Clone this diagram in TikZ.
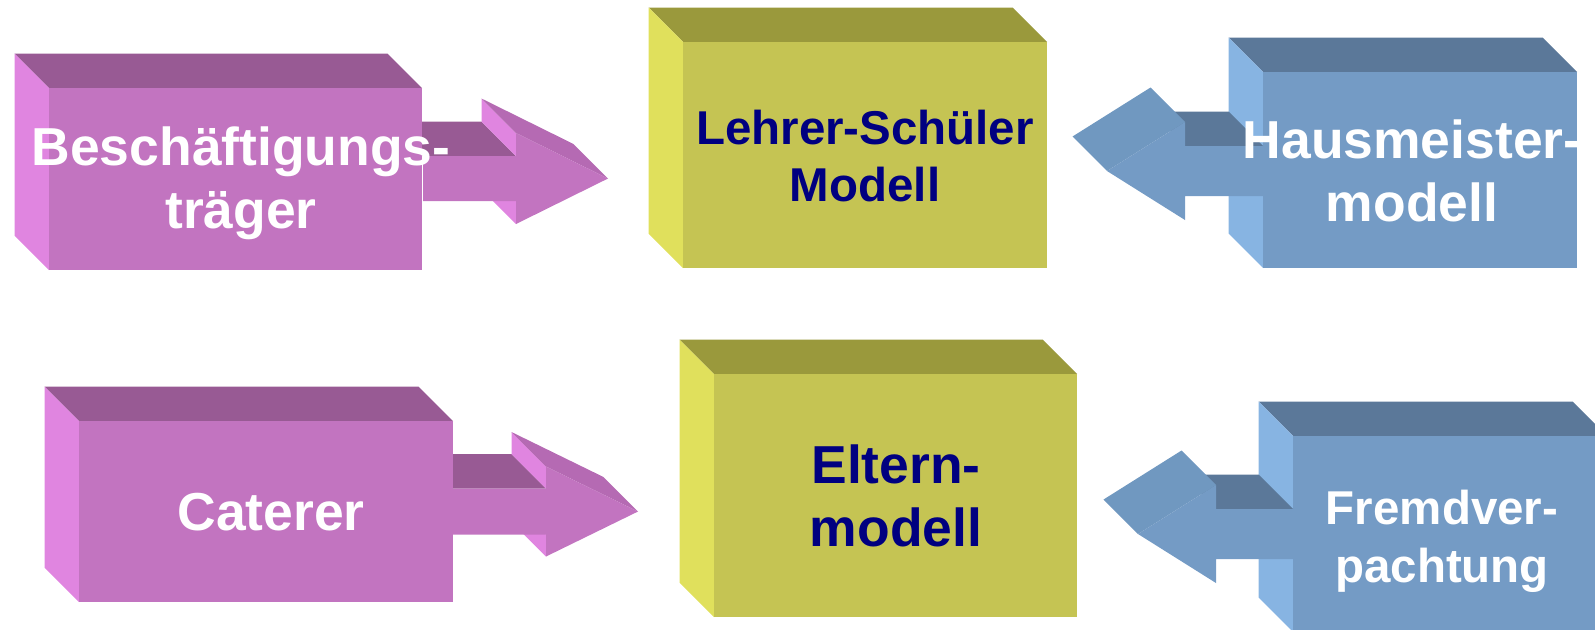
\documentclass[tikz,border=0pt]{standalone}
\usepackage{fontspec}
\setmainfont{Liberation Sans}
\usepackage{xcolor}
\definecolor{lilafront}{HTML}{C274C0}
\definecolor{lilatop}{HTML}{985A94}
\definecolor{lilaside}{HTML}{E085E0}
\definecolor{lilahead}{HTML}{B56AB3}
\definecolor{olivfront}{HTML}{C5C453}
\definecolor{olivtop}{HTML}{9A993C}
\definecolor{olivside}{HTML}{E0E05C}
\definecolor{blaufront}{HTML}{749BC5}
\definecolor{blautop}{HTML}{5B7899}
\definecolor{blauside}{HTML}{87B4E2}
\definecolor{blauhead}{HTML}{7098C0}
\definecolor{navytext}{HTML}{000080}
\def\dd{34.5}
% cuboid: left, top, right, bottom of the front face; colour
\newcommand{\quader}[5]{%
  \fill[#5top] (#1-\dd,#2-\dd) -- (#3-\dd,#2-\dd) -- (#3,#2) -- (#1,#2) -- cycle;
  \fill[#5side] (#1-\dd,#2-\dd) -- (#1,#2) -- (#1,#4) -- (#1-\dd,#4-\dd) -- cycle;
  \fill[#5front] (#1,#2) rectangle (#3,#4);
}
% block arrow: start, centre y, head base, tip, shaft half, head half; colour
\newcommand{\rpfeil}[7]{%
  \fill[#7top] (#1-\dd,#2-#5-\dd) -- (#3-\dd,#2-#5-\dd) -- (#3,#2-#5) -- (#1,#2-#5) -- cycle;
  \fill[#7side] (#3-\dd,#2-#6-\dd) -- (#3,#2-#6) -- (#3,#2-#5) -- (#3-\dd,#2-#5-\dd) -- cycle;
  \fill[#7head] (#3-\dd,#2-#6-\dd) -- (#4-\dd,#2-\dd) -- (#4,#2) -- (#3,#2-#6) -- cycle;
  \fill[#7side] (#3-\dd,#2+#6-\dd) -- (#3,#2+#6) -- (#3,#2+#5) -- (#3-\dd,#2+#5-\dd) -- cycle;
  \fill[#7front] (#1,#2-#5) -- (#3,#2-#5) -- (#3,#2-#6) -- (#4,#2) -- (#3,#2+#6) -- (#3,#2+#5) -- (#1,#2+#5) -- cycle;
}
\newcommand{\lpfeil}[7]{%
  \fill[#7top] (#3-\dd,#2-#5-\dd) -- (#1-\dd,#2-#5-\dd) -- (#1,#2-#5) -- (#3,#2-#5) -- cycle;
  \fill[#7head] (#3-\dd,#2-#6-\dd) -- (#4-\dd,#2-\dd) -- (#4,#2) -- (#3,#2-#6) -- cycle;
  \fill[#7front] (#1,#2-#5) -- (#3,#2-#5) -- (#3,#2-#6) -- (#4,#2) -- (#3,#2+#6) -- (#3,#2+#5) -- (#1,#2+#5) -- cycle;
}
\tikzset{
  gross/.style={font=\fontsize{15.2}{17.9}\selectfont\bfseries, align=center},
  klein/.style={font=\fontsize{13.5}{16.4}\selectfont\bfseries, align=center}
}

\begin{document}
\begin{tikzpicture}[x=0.01cm,y=-0.01cm]
  \useasboundingbox (0,0) rectangle (1595,629);
  \clip (0,0) rectangle (1595,629);

  % upper row
  \rpfeil{423}{178.5}{516}{608}{22.5}{45.5}{lila}
  \quader{49}{88}{422}{270}{lila}
  \quader{683}{42}{1047}{268}{oliv}
  \quader{1263}{72}{1577}{268}{blau}
  \lpfeil{1263}{171}{1185}{1107}{25}{49}{blau}

  % lower row
  \rpfeil{453}{511.5}{546}{638}{23}{45}{lila}
  \quader{79}{421}{453}{602}{lila}
  \quader{714}{374}{1077}{617}{oliv}
  \quader{1293}{436}{1607}{632}{blau}
  \lpfeil{1293}{534}{1216}{1138}{25}{49}{blau}

  % labels
  \node[gross,white] (besch) at (241,183) {Beschäftigungs-\\träger};
  \node[klein,navytext] (lehrer) at (865,156) {Lehrer-Schüler\\Modell};
  \node[gross,white] (haus) at (1412,171) {Hausmeister-\\modell};
  \node[gross,white] (cater) at (271,512) {Caterer};
  \node[gross,navytext] (eltern) at (896,496) {Eltern-\\modell};
  \node[klein,white] (fremd) at (1442,541) {Fremdver-\\pachtung};
\end{tikzpicture}
\end{document}
